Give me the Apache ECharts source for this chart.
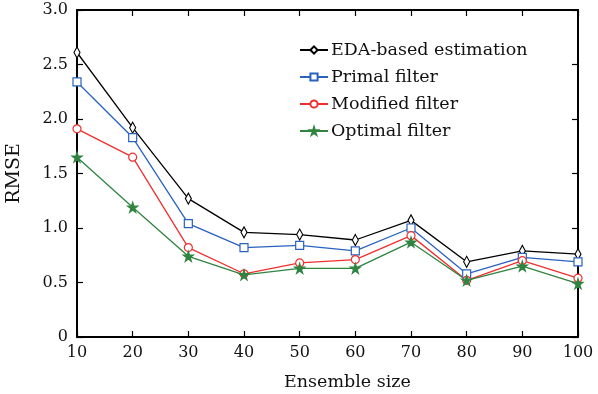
<!DOCTYPE html>
<html>
<head>
<meta charset="utf-8">
<script src="https://cdn.jsdelivr.net/npm/echarts@6/dist/echarts.min.js"></script>
<style>
  html, body { margin: 0; padding: 0; background: #fff; }
  #chart { width: 598px; height: 394px; }
</style>
</head>
<body>
<div id="chart"></div>
<script>
// ensemble sizes on the x axis
const ensembleSizes = [10, 20, 30, 40, 50, 60, 70, 80, 90, 100];

// RMSE
const edaBased = [2.61, 1.92, 1.27, 0.96, 0.94, 0.89, 1.07, 0.69, 0.79, 0.76];
const primalFilter = [2.34, 1.83, 1.04, 0.82, 0.84, 0.79, 1.00, 0.58, 0.73, 0.69];
const modifiedFilter = [1.91, 1.65, 0.82, 0.58, 0.68, 0.71, 0.93, 0.52, 0.70, 0.54];
const optimalFilter = [1.65, 1.19, 0.74, 0.57, 0.63, 0.63, 0.87, 0.52, 0.65, 0.49];

const seriesNames = ["EDA-based estimation", "Primal filter", "Modified filter", "Optimal filter"];

const FONT = "DejaVu Serif";
const diamond = "path://M5,0L10,10L5,20L0,10Z";
const star = "path://M50,0L61,35L98,35L68,57L79,91L50,70L21,91L32,57L2,35L39,35Z";

function pairs(values) {
  return ensembleSizes.map((x, i) => [x, values[i]]);
}

function makeSeries(name, values, color, symbol, size, filled) {
  return {
    name: name,
    type: "line",
    data: pairs(values),
    symbol: symbol,
    symbolSize: size,
    showAllSymbol: true,
    lineStyle: { color: color, width: 1.3 },
    itemStyle: {
      color: filled ? color : "#fff",
      borderColor: color,
      borderWidth: 1.2,
    },
    emphasis: { disabled: true },
    animation: false,
  };
}

const chart = echarts.init(document.getElementById("chart"));

const axisCommon = {
  axisLine: { show: true, onZero: false, lineStyle: { color: "#000", width: 2 } },
  axisTick: { show: true, inside: true, length: 6, lineStyle: { color: "#000", width: 1.2 } },
  splitLine: { show: false },
};

chart.setOption({
  animation: false,
  grid: { left: 77, right: 20, top: 10, bottom: 57, outerBoundsMode: "none" },
  legend: {
    orient: "vertical",
    left: 294,
    top: 36,
    itemGap: 9,
    itemWidth: 28,
    itemHeight: 9,
    data: seriesNames,
    textStyle: { fontFamily: FONT, fontSize: 17.5, color: "#111", padding: [0, 0, 0, -2] },
  },
  xAxis: [
    Object.assign({
      type: "value",
      min: 10,
      max: 100,
      interval: 10,
      position: "bottom",
      name: "Ensemble size",
      nameLocation: "middle",
      nameGap: 36,
      nameTextStyle: { fontFamily: FONT, fontSize: 17.5, color: "#111", padding: [0, 0, 0, 40] },
      axisLabel: { fontFamily: FONT, fontSize: 16, color: "#111", margin: 8 },
    }, axisCommon),
    Object.assign({
      type: "value",
      min: 10,
      max: 100,
      interval: 10,
      position: "top",
      axisLabel: { show: false },
    }, axisCommon),
  ],
  yAxis: [
    Object.assign({
      type: "value",
      min: 0,
      max: 3,
      interval: 0.5,
      position: "left",
      name: "RMSE",
      nameLocation: "middle",
      nameGap: 53,
      nameTextStyle: { fontFamily: FONT, fontSize: 19, color: "#111" },
      axisLabel: {
        fontFamily: FONT, fontSize: 16, color: "#111", margin: 9,
        formatter: (v) => (v === 0 ? "0" : v.toFixed(1)),
      },
    }, axisCommon),
    Object.assign({
      type: "value",
      min: 0,
      max: 3,
      interval: 0.5,
      position: "right",
      axisLabel: { show: false },
    }, axisCommon),
  ],
  series: [
    makeSeries(seriesNames[0], edaBased, "#000000", diamond, [6, 11], false),
    makeSeries(seriesNames[1], primalFilter, "#2a62c0", "rect", 8, false),
    makeSeries(seriesNames[2], modifiedFilter, "#f03030", "circle", 8, false),
    makeSeries(seriesNames[3], optimalFilter, "#2f8440", star, 10, true),
  ],
});
</script>
</body>
</html>
